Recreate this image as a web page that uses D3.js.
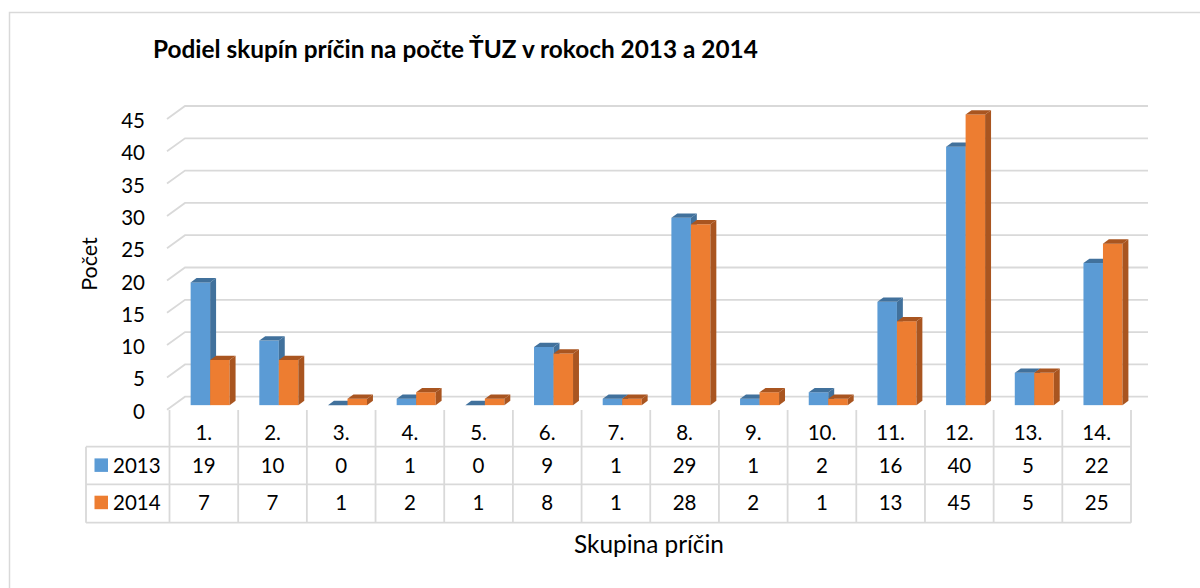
<!DOCTYPE html>
<html>
<head>
<meta charset="utf-8">
<script src="https://cdn.jsdelivr.net/npm/d3@7"></script>
<style>
  body { margin: 0; background: #fff; }
  text { font-family: Lato, "Open Sans", sans-serif; fill: #000; }
</style>
</head>
<body>
<div id="chart"></div>
<script>
var categories = ["1.", "2.", "3.", "4.", "5.", "6.", "7.", "8.", "9.", "10.", "11.", "12.", "13.", "14."];
var seriesNames = ["2013", "2014"];
var values2013 = [19, 10, 0, 1, 0, 9, 1, 29, 1, 2, 16, 40, 5, 22];
var values2014 = [7, 7, 1, 2, 1, 8, 1, 28, 2, 1, 13, 45, 5, 25];
var yTicks = [0, 5, 10, 15, 20, 25, 30, 35, 40, 45];

var seriesValues = [values2013, values2014];
var front = ["#5b9bd5", "#ed7d31"];
var shade = ["#41719c", "#a95520"];
var gridColor = "#d9d9d9";

var width = 1200, height = 588;
var fs = 20.5;

var svg = d3.select("#chart").append("svg")
    .attr("width", width)
    .attr("height", height);

// chart border
svg.append("rect")
    .attr("x", 9.5).attr("y", 12.5)
    .attr("width", 1200).attr("height", 600)
    .attr("fill", "none")
    .attr("stroke", gridColor)
    .attr("stroke-width", 1.5);

// fit a text to a target width
function fitText(sel, w) {
  var len = sel.node().getComputedTextLength();
  var f = parseFloat(sel.attr("font-size"));
  sel.attr("font-size", f * w / len);
}

var title = svg.append("text")
    .attr("x", 153).attr("y", 58)
    .attr("font-size", 20)
    .attr("font-weight", "bold")
    .text("Podiel skupín príčin na počte ŤUZ v rokoch 2013 a 2014");
fitText(title, 605);

// scales: front plane of the 3d box
var plotLeft = 167, plotRight = 1130;
var depthX = 18, depthY = -13;
var x = d3.scaleBand().domain(categories).range([169.5, 1131]);
var y = d3.scaleLinear().domain([0, 45]).range([409.7, 119]);

// gridlines on the back wall with the side diagonal
svg.append("g").selectAll("path")
    .data(yTicks).enter().append("path")
    .attr("d", function(t) {
      var yf = y(t);
      return "M" + plotLeft + "," + yf +
             "L" + (plotLeft + depthX) + "," + (yf + depthY) +
             "L" + (plotRight + depthX) + "," + (yf + depthY);
    })
    .attr("fill", "none")
    .attr("stroke", gridColor)
    .attr("stroke-width", 1.8);

// y axis labels
var yAxis = svg.append("g")
    .attr("transform", "translate(147,2)")
    .call(d3.axisLeft(y).tickValues(yTicks).tickSize(0).tickPadding(2));
yAxis.select(".domain").remove();
yAxis.selectAll("text")
    .attr("font-size", fs)
    .attr("font-family", "Lato, 'Open Sans', sans-serif");
yAxis.attr("font-family", null).attr("font-size", null);

svg.append("text")
    .attr("transform", "translate(97,264) rotate(-90)")
    .attr("text-anchor", "middle")
    .attr("font-size", 21.5)
    .text("Počet");

// bars
var barW = 19.5;
var dFront = 0.35, dDepth = 0.33;
var bars = svg.append("g");

seriesValues.forEach(function(vals, s) {
  var g = bars.append("g");
  var cell = g.selectAll("g")
      .data(vals).enter().append("g");

  function geom(v, i) {
    var x0 = x(categories[i]) + x.bandwidth() / 2 - barW + s * barW + depthX * dFront;
    var yb = y(0) + depthY * dFront;
    var yt = y(v) + depthY * dFront;
    return {x0: x0, x1: x0 + barW, yb: yb, yt: yt, dx: depthX * dDepth, dy: depthY * dDepth};
  }

  cell.append("rect")
      .attr("x", function(v, i) { return geom(v, i).x0; })
      .attr("y", function(v, i) { return geom(v, i).yt; })
      .attr("width", barW)
      .attr("height", function(v, i) { var b = geom(v, i); return b.yb - b.yt; })
      .attr("fill", front[s]);

  cell.append("path")
      .attr("d", function(v, i) {
        var b = geom(v, i);
        return "M" + b.x0 + "," + b.yt + "L" + b.x1 + "," + b.yt +
               "L" + (b.x1 + b.dx) + "," + (b.yt + b.dy) +
               "L" + (b.x0 + b.dx) + "," + (b.yt + b.dy) + "Z";
      })
      .attr("fill", shade[s]);

  cell.append("path")
      .attr("d", function(v, i) {
        var b = geom(v, i);
        return "M" + b.x1 + "," + b.yt +
               "L" + (b.x1 + b.dx) + "," + (b.yt + b.dy) +
               "L" + (b.x1 + b.dx) + "," + (b.yb + b.dy) +
               "L" + b.x1 + "," + b.yb + "Z";
      })
      .attr("fill", shade[s]);
});

// data table
var tTop = 410, rowTop = [446.7, 484.3], tBottom = 522.7, tLeft = 86;
var tRight = x.range()[1];
var lines = svg.append("g")
    .attr("stroke", gridColor)
    .attr("stroke-width", 1.8);

var cols = categories.map(function(c) { return x(c); }).concat([tRight]);
lines.selectAll(".vline")
    .data(cols).enter().append("line")
    .attr("x1", function(d) { return d; })
    .attr("x2", function(d) { return d; })
    .attr("y1", tTop)
    .attr("y2", tBottom);

lines.append("line")
    .attr("x1", tLeft).attr("x2", tLeft)
    .attr("y1", rowTop[0]).attr("y2", tBottom);

lines.selectAll(".hline")
    .data(rowTop.concat([tBottom])).enter().append("line")
    .attr("x1", tLeft).attr("x2", tRight)
    .attr("y1", function(d) { return d; })
    .attr("y2", function(d) { return d; });

var xAxis = svg.append("g")
    .attr("transform", "translate(0,440)")
    .call(d3.axisBottom(x).tickSize(0).tickPadding(0));
xAxis.select(".domain").remove();
xAxis.selectAll("text")
    .attr("dy", 0)
    .attr("font-size", fs)
    .attr("font-family", "Lato, 'Open Sans', sans-serif");
xAxis.attr("font-family", null).attr("font-size", null);

var rowBase = [472.7, 510];
seriesValues.forEach(function(vals, s) {
  svg.append("rect")
      .attr("x", 94.5)
      .attr("y", rowBase[s] - 14.3)
      .attr("width", 13.5)
      .attr("height", 13.5)
      .attr("fill", front[s]);

  svg.append("text")
      .attr("x", 113)
      .attr("y", rowBase[s])
      .attr("font-size", fs)
      .text(seriesNames[s]);

  svg.append("g").selectAll("text")
      .data(vals).enter().append("text")
      .attr("x", function(v, i) { return x(categories[i]) + x.bandwidth() / 2; })
      .attr("y", rowBase[s])
      .attr("text-anchor", "middle")
      .attr("font-size", fs)
      .text(function(v) { return v; });
});

var xTitle = svg.append("text")
    .attr("x", 649).attr("y", 553)
    .attr("text-anchor", "middle")
    .attr("font-size", 21)
    .text("Skupina príčin");
fitText(xTitle, 150);
</script>
</body>
</html>
